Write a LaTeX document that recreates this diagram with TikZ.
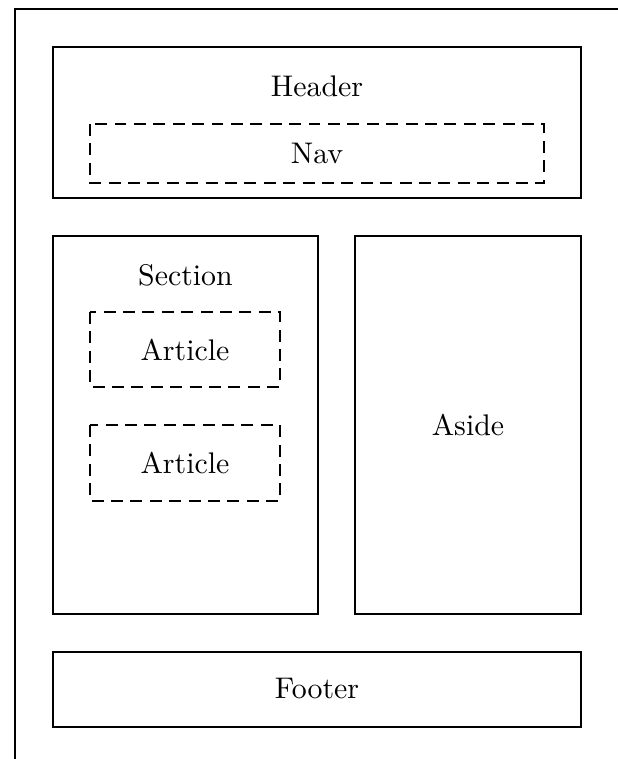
\documentclass[tikz,border=0pt]{standalone}
\usepackage{tikz}
\usetikzlibrary{positioning}

\tikzset{
  region/.style={draw, line width=0.65pt},
  subregion/.style={draw, line width=0.65pt, dash pattern=on 4pt off 2.5pt},
  tag/.style={inner sep=0pt}
}

\begin{document}
\begin{tikzpicture}[x=0.335pt, y=-0.335pt]
  \useasboundingbox (0,0) rectangle (618,759);

  % Page (runs past the edges)
  \draw[region] (15,9) rectangle (660,800);

  % Header with nav
  \draw[region] (53,47) rectangle (581,198);
  \node[tag] (header) at (317,86) {Header};
  \draw[subregion] (90,124) rectangle (544,183);
  \node[tag] (nav) at (317,153) {Nav};

  % Section with two articles
  \draw[region] (53,236) rectangle (318,614);
  \node[tag] (section) at (185.5,275) {Section};
  \draw[subregion] (90,312) rectangle (280,387);
  \node[tag] (article1) at (185,350) {Article};
  \draw[subregion] (90,425) rectangle (280,501);
  \node[tag] (article2) at (185,463) {Article};

  % Aside
  \draw[region] (355,236) rectangle (581,614);
  \node[tag] (aside) at (468,425) {Aside};

  % Footer
  \draw[region] (53,652) rectangle (581,727);
  \node[tag] (footer) at (317,689) {Footer};
\end{tikzpicture}
\end{document}
